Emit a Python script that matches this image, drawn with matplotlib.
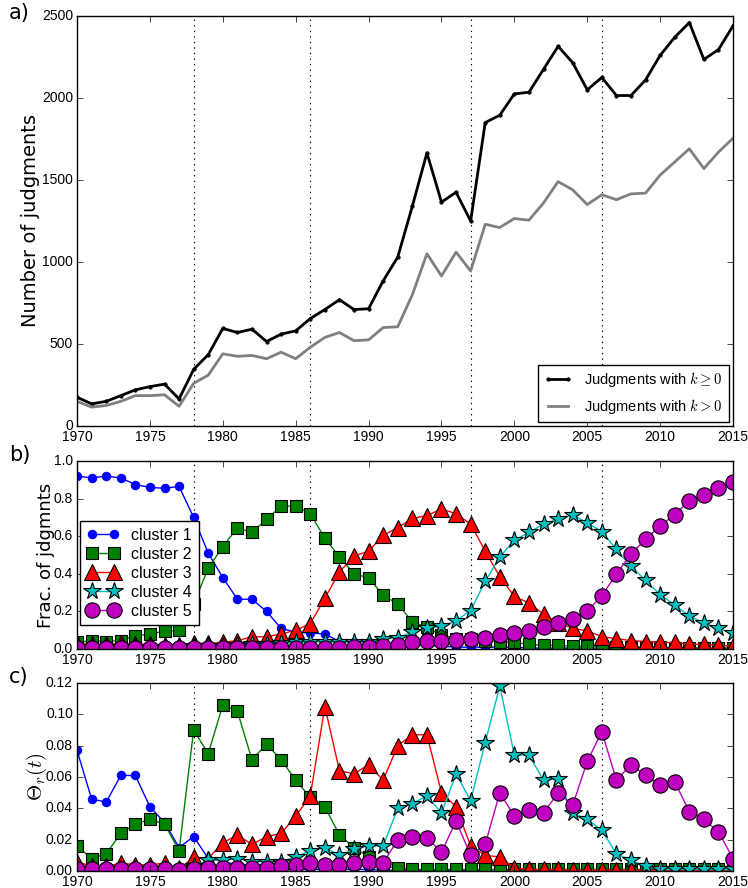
import numpy as np
import matplotlib
matplotlib.use("Agg")
import matplotlib.pyplot as plt

plt.style.use("classic")
plt.rcParams["axes.formatter.useoffset"] = False

years = np.arange(1970, 2016)

judg_all = [175, 135, 150, 185, 220, 240, 255, 165, 345, 435,
            595, 570, 590, 515, 560, 580, 655, 710, 770, 710,
            715, 885, 1030, 1340, 1665, 1365, 1425, 1250, 1850, 1895,
            2025, 2035, 2175, 2315, 2215, 2050, 2125, 2015, 2015, 2110,
            2260, 2370, 2460, 2235, 2295, 2440]
judg_pos = [150, 115, 125, 150, 185, 185, 190, 120, 260, 310,
            440, 425, 430, 410, 450, 410, 480, 540, 570, 520,
            525, 600, 605, 800, 1050, 915, 1060, 945, 1230, 1210,
            1265, 1255, 1360, 1490, 1440, 1350, 1410, 1380, 1415, 1420,
            1530, 1610, 1690, 1570, 1670, 1755]

frac1 = [0.92, 0.91, 0.92, 0.91, 0.875, 0.86, 0.855, 0.865, 0.70, 0.51,
         0.38, 0.265, 0.265, 0.20, 0.11, 0.09, 0.085, 0.08, 0.04, 0.04,
         0.04, 0.025, 0.025, 0.025, 0.02, 0.015, 0.01, 0.01, 0.01, 0.01,
         0.01, 0.005, 0.005, 0.005, 0.005, 0.005, 0.005, 0.005, 0.005, 0.005,
         0.005, 0.005, 0.005, 0.005, 0.005, 0.005]
frac2 = [0.035, 0.045, 0.04, 0.045, 0.07, 0.08, 0.095, 0.10, 0.24, 0.43,
         0.545, 0.645, 0.62, 0.69, 0.76, 0.76, 0.72, 0.59, 0.49, 0.40,
         0.38, 0.285, 0.24, 0.145, 0.115, 0.075, 0.055, 0.055, 0.045, 0.04,
         0.035, 0.025, 0.02, 0.02, 0.015, 0.015, 0.015, 0.01, 0.01, 0.01,
         0.01, 0.008, 0.008, 0.006, 0.006, 0.005]
frac3 = [0.03, 0.025, 0.025, 0.03, 0.025, 0.025, 0.02, 0.02, 0.03, 0.03,
         0.035, 0.045, 0.065, 0.065, 0.08, 0.10, 0.135, 0.27, 0.41, 0.495,
         0.52, 0.605, 0.645, 0.695, 0.71, 0.745, 0.72, 0.665, 0.52, 0.385,
         0.28, 0.245, 0.185, 0.14, 0.11, 0.097, 0.066, 0.055, 0.045, 0.04,
         0.035, 0.035, 0.025, 0.025, 0.02, 0.016]
frac4 = [0.01, 0.01, 0.01, 0.01, 0.01, 0.01, 0.01, 0.01, 0.015, 0.015,
         0.015, 0.02, 0.025, 0.025, 0.03, 0.035, 0.035, 0.04, 0.035, 0.035,
         0.035, 0.055, 0.06, 0.09, 0.11, 0.12, 0.15, 0.205, 0.36, 0.49,
         0.58, 0.62, 0.665, 0.69, 0.715, 0.67, 0.625, 0.53, 0.44, 0.365,
         0.29, 0.235, 0.175, 0.14, 0.11, 0.085]
frac5 = [0.005, 0.005, 0.005, 0.005, 0.005, 0.005, 0.005, 0.005, 0.005, 0.005,
         0.005, 0.005, 0.005, 0.005, 0.005, 0.007, 0.008, 0.008, 0.008, 0.01,
         0.01, 0.015, 0.02, 0.036, 0.044, 0.042, 0.05, 0.055, 0.06, 0.075,
         0.083, 0.097, 0.115, 0.137, 0.158, 0.202, 0.283, 0.40, 0.505, 0.585,
         0.655, 0.715, 0.79, 0.82, 0.855, 0.89]

theta1 = [0.077, 0.046, 0.044, 0.061, 0.061, 0.041, 0.031, 0.015, 0.022, 0.008,
          0.006, 0.004, 0.004, 0.004, 0.001, 0.001, 0.001, 0.001, 0.001, 0.001,
          0.001, 0.0005, 0.0005, 0.0005, 0.0005, 0.0005, 0.0005, 0.0005, 0.0005, 0.001,
          0.0005, 0.0005, 0.0005, 0.0005, 0.0005, 0.0005, 0.0005, 0.0005, 0.0005, 0.0005,
          0.0005, 0.0005, 0.0005, 0.0005, 0.0005, 0.0005]
theta2 = [0.016, 0.008, 0.011, 0.024, 0.030, 0.033, 0.030, 0.013, 0.090, 0.075,
          0.106, 0.102, 0.071, 0.081, 0.071, 0.058, 0.047, 0.041, 0.023, 0.015,
          0.009, 0.003, 0.002, 0.001, 0.001, 0.001, 0.001, 0.001, 0.001, 0.001,
          0.001, 0.001, 0.001, 0.001, 0.001, 0.001, 0.001, 0.001, 0.001, 0.001,
          0.001, 0.001, 0.001, 0.001, 0.001, 0.001]
theta3 = [0.006, 0.003, 0.003, 0.005, 0.004, 0.004, 0.005, 0.001, 0.009, 0.008,
          0.018, 0.023, 0.017, 0.022, 0.024, 0.035, 0.048, 0.105, 0.064, 0.062,
          0.068, 0.058, 0.080, 0.087, 0.087, 0.050, 0.041, 0.016, 0.010, 0.009,
          0.002, 0.001, 0.001, 0.001, 0.0005, 0.0005, 0.0005, 0.0005, 0.0005, 0.0005,
          0.0005, 0.0005, 0.0005, 0.0005, 0.0005, 0.0005]
theta4 = [0.001, 0.001, 0.001, 0.001, 0.001, 0.001, 0.001, 0.001, 0.003, 0.007,
          0.007, 0.008, 0.006, 0.006, 0.006, 0.009, 0.013, 0.015, 0.010, 0.014,
          0.016, 0.016, 0.040, 0.043, 0.048, 0.037, 0.062, 0.045, 0.082, 0.118,
          0.074, 0.074, 0.058, 0.059, 0.037, 0.033, 0.026, 0.011, 0.007, 0.003,
          0.001, 0.001, 0.001, 0.001, 0.001, 0.001]
theta5 = [0.001, 0.001, 0.001, 0.001, 0.001, 0.001, 0.001, 0.0005, 0.001, 0.002,
          0.002, 0.002, 0.002, 0.002, 0.003, 0.004, 0.005, 0.004, 0.004, 0.005,
          0.006, 0.005, 0.020, 0.022, 0.021, 0.012, 0.032, 0.010, 0.017, 0.050,
          0.035, 0.039, 0.037, 0.050, 0.042, 0.070, 0.089, 0.058, 0.068, 0.061,
          0.055, 0.057, 0.038, 0.033, 0.025, 0.008]

breaks = [1978, 1986, 1997, 2006]

cluster_names = ["cluster 1", "cluster 2", "cluster 3", "cluster 4", "cluster 5"]
colors = ["b", "g", "r", "c", "m"]
markers = ["o", "s", "^", "*", "o"]
msizes = [6, 9, 11, 13, 11]

tick_font = "Liberation Sans"

fig = plt.figure(figsize=(7.48, 8.88), dpi=100, facecolor="white")
ax_a = fig.add_axes([0.103, 0.5203, 0.877, 0.4617])
ax_b = fig.add_axes([0.103, 0.2691, 0.877, 0.2117])
ax_c = fig.add_axes([0.103, 0.0191, 0.877, 0.2117])

for ax in (ax_a, ax_b, ax_c):
    ax.set_facecolor("white")
    ax.set_xlim(1970, 2015)
    ax.set_xticks(np.arange(1970, 2016, 5))
    ax.tick_params(pad=3)
    for b in breaks:
        ax.axvline(b, color="k", ls=":", lw=0.8, zorder=0.5)

# a) number of judgments per year
ax_a.plot(years, judg_all, "k.-", lw=2, ms=5, label=r"Judgments with $k\geq0$")
ax_a.plot(years, judg_pos, "-", color="gray", lw=2, label=r"Judgments with $k>0$")
ax_a.set_ylim(0, 2500)
ax_a.set_yticks(np.arange(0, 2501, 500))
ax_a.set_ylabel("Number of judgments", fontsize=14, labelpad=1)
ax_a.legend(loc="lower right", prop={"family": tick_font, "size": 10.5},
            handlelength=2, borderaxespad=0.3)

# b) fraction of judgments in each cluster
fracs = [frac1, frac2, frac3, frac4, frac5]
for i, f in enumerate(fracs):
    mec = colors[i] if i == 0 else "k"
    ax_b.plot(years, f, marker=markers[i], color=colors[i], ms=msizes[i],
              mec=mec, mew=0.8, lw=1, label=cluster_names[i])
ax_b.set_ylim(0, 1)
ax_b.set_yticks(np.arange(0, 1.01, 0.2))
ax_b.set_ylabel("Frac. of jdgmnts", fontsize=13, labelpad=-1)
ax_b.legend(loc="upper left", bbox_to_anchor=(0.005, 0.68),
            prop={"family": tick_font, "size": 11.5},
            borderaxespad=0, handlelength=2, numpoints=2, labelspacing=0.25)

# c) Theta_r(t)
thetas = [theta1, theta2, theta3, theta4, theta5]
for i, t in enumerate(thetas):
    mec = colors[i] if i == 0 else "k"
    ax_c.plot(years, t, marker=markers[i], color=colors[i], ms=msizes[i],
              mec=mec, mew=0.8, lw=1)
ax_c.set_ylim(0, 0.12)
ax_c.set_yticks(np.arange(0, 0.121, 0.02))
ax_c.set_yticklabels(["%.2f" % v for v in np.arange(0, 0.121, 0.02)])
ax_c.set_ylabel(r"$\Theta_r(t)$", fontsize=15, labelpad=-2)

for ax in (ax_a, ax_b, ax_c):
    for lab in ax.get_xticklabels() + ax.get_yticklabels():
        lab.set_fontfamily(tick_font)
        lab.set_fontsize(10)

fig.text(0.012, 0.985, "a)", fontsize=15, va="center")
fig.text(0.012, 0.488, "b)", fontsize=15, va="center")
fig.text(0.012, 0.238, "c)", fontsize=15, va="center")

fig.savefig("out.png", dpi=100, facecolor="white")
